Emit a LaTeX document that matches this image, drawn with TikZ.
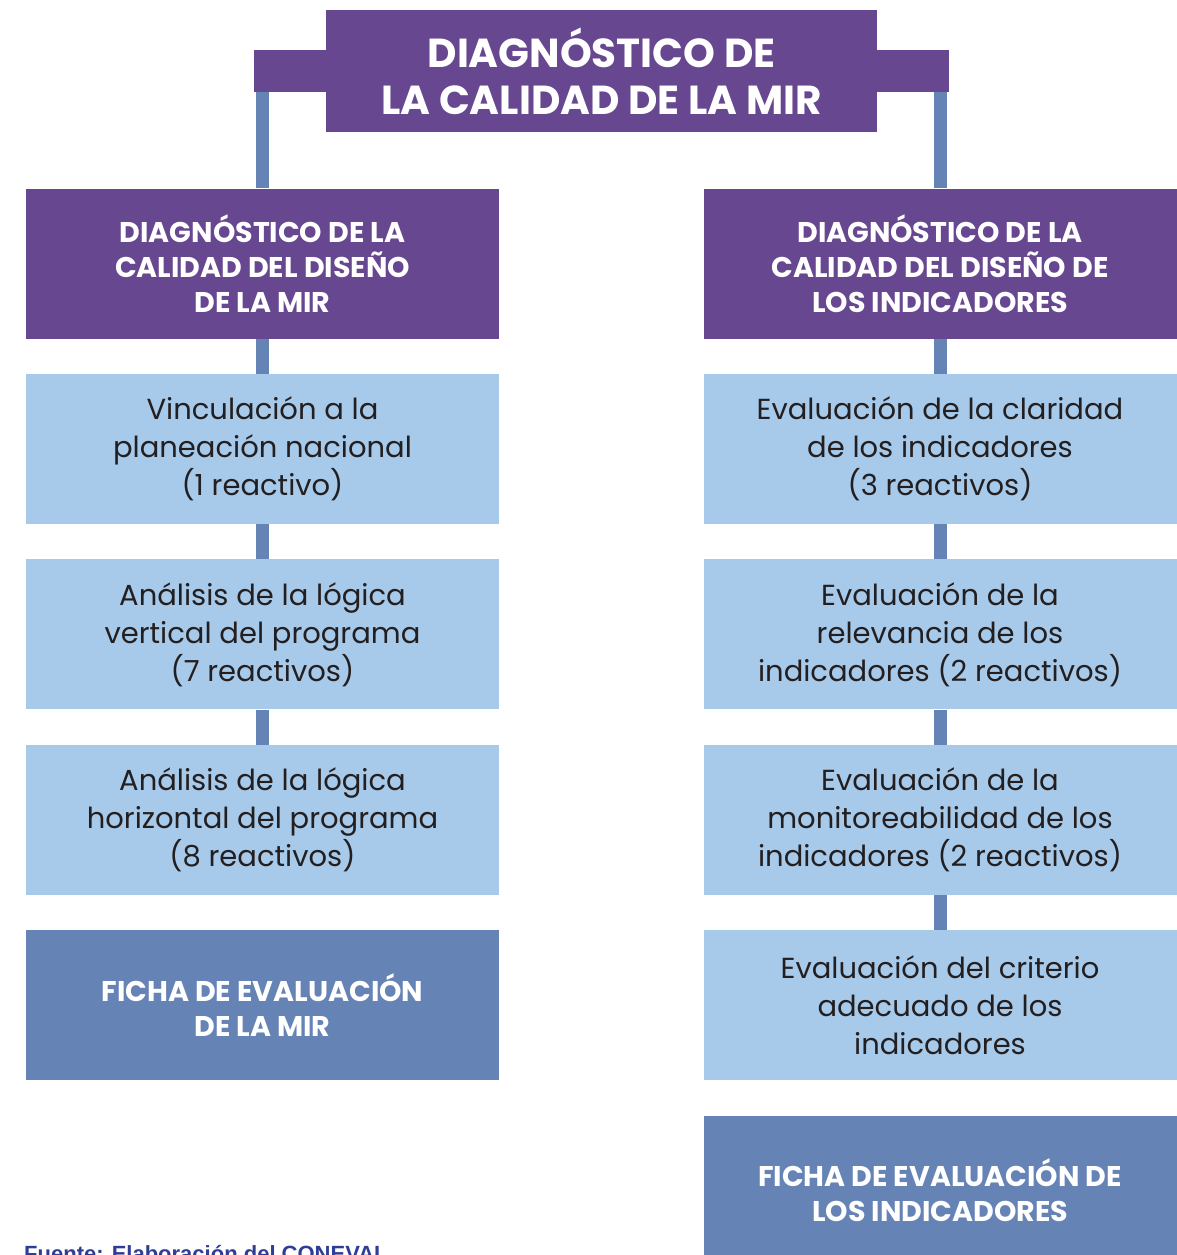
\documentclass[tikz,border=0pt]{standalone}
\usepackage{fontspec}
\setmainfont{Poppins}
\newfontfamily\sourcefont{Liberation Sans}
\usepackage{tikz}
\usetikzlibrary{positioning}
\definecolor{mirpurple}{HTML}{674790}
\definecolor{mirlight}{HTML}{A7C9EA}
\definecolor{mirsteel}{HTML}{6683B5}
\definecolor{mirtext}{HTML}{231F20}
\definecolor{mirsource}{HTML}{2E3D97}

\begin{document}
\begin{tikzpicture}[x=1pt, y=-1pt, node distance=35pt,
  head/.style={fill=mirpurple, text=white, font=\bfseries\fontsize{28.5}{35}\selectfont,
    minimum width=473pt, minimum height=150pt, align=center, inner sep=0pt},
  item/.style={fill=mirlight, text=mirtext, font=\fontsize{29}{38}\selectfont,
    minimum width=473pt, minimum height=150pt, align=center, inner sep=0pt},
  ficha/.style={fill=mirsteel, text=white, font=\bfseries\fontsize{28.5}{35}\selectfont,
    minimum width=473pt, minimum height=150pt, align=center, inner sep=0pt},
  link/.style={draw=mirsteel, line width=13pt}]
\useasboundingbox (0,0) rectangle (1176,1255);

\node[fill=mirpurple, minimum width=695pt, minimum height=42pt, inner sep=0pt] (bar) at (601.5,71) {};
\node[fill=mirpurple, text=white, font=\bfseries\fontsize{40.5}{47}\selectfont,
  minimum width=551pt, minimum height=122pt, align=center, inner sep=0pt] (title) at (601.5,71)
  {DIAGNÓSTICO DE\\LA CALIDAD DE LA MIR};

% left column
\node[head] (diag mir) at (262.5,263.5) {DIAGNÓSTICO DE LA\\CALIDAD DEL DISEÑO\\DE LA MIR};
\node[item, below=of diag mir] (vinculacion) {Vinculación a la\\planeación nacional\\(1 reactivo)};
\node[item, below=of vinculacion] (logica vertical) {Análisis de la lógica\\vertical del programa\\(7 reactivos)};
\node[item, below=of logica vertical] (logica horizontal) {Análisis de la lógica\\horizontal del programa\\(8 reactivos)};
\node[ficha, below=of logica horizontal] (ficha mir) {FICHA DE EVALUACIÓN\\DE LA MIR};

% right column
\node[head] (diag ind) at (940,263.5) {DIAGNÓSTICO DE LA\\CALIDAD DEL DISEÑO DE\\LOS INDICADORES};
\node[item, below=of diag ind] (claridad) {Evaluación de la claridad\\de los indicadores\\(3 reactivos)};
\node[item, below=of claridad] (relevancia) {Evaluación de la\\relevancia de los\\indicadores (2 reactivos)};
\node[item, below=of relevancia] (monitoreabilidad) {Evaluación de la\\monitoreabilidad de los\\indicadores (2 reactivos)};
\node[item, below=of monitoreabilidad] (criterio) {Evaluación del criterio\\adecuado de los\\indicadores};
\node[ficha, below=of criterio] (ficha ind) {FICHA DE EVALUACIÓN DE\\LOS INDICADORES};

\node[anchor=base west, inner sep=0pt, text=mirsource,
  font=\sourcefont\bfseries\fontsize{22}{26}\selectfont] (fuente) at (24,1261) {Fuente: Elaboración del CONEVAL};

\draw[link] (diag mir.north) -- (diag mir.north |- bar.south);
\draw[link] (diag ind.north) -- (diag ind.north |- bar.south);

\draw[link] (diag mir) -- (vinculacion);
\draw[link] (vinculacion) -- (logica vertical);
\draw[link] (logica vertical) -- (logica horizontal);

\draw[link] (diag ind) -- (claridad);
\draw[link] (claridad) -- (relevancia);
\draw[link] (relevancia) -- (monitoreabilidad);
\draw[link] (monitoreabilidad) -- (criterio);

\end{tikzpicture}
\end{document}
